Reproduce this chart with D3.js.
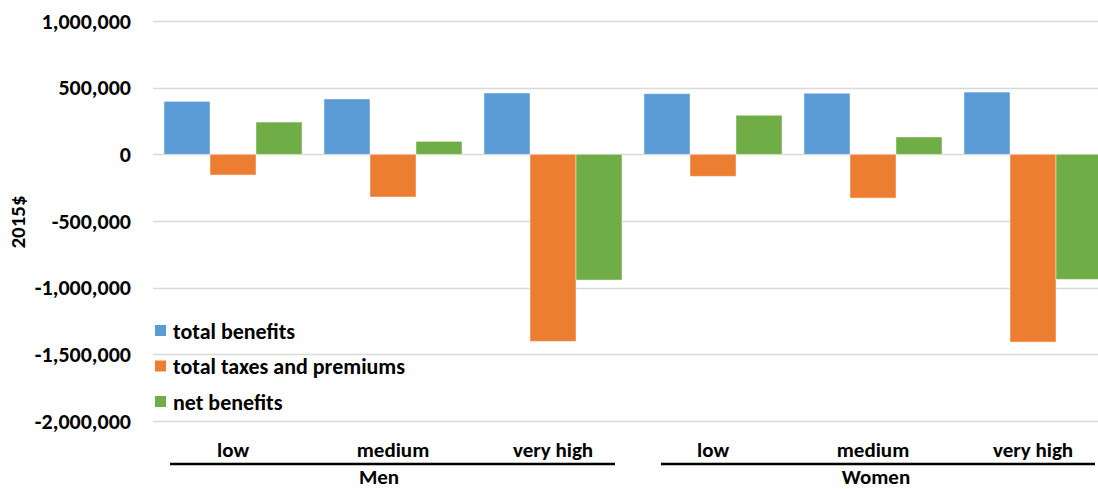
<!DOCTYPE html>
<html><head><meta charset="utf-8">
<script src="https://cdn.jsdelivr.net/npm/d3@7"></script>
<style>
html,body{margin:0;padding:0;background:#fff;}
svg text{font-family:Carlito,"Open Sans",Lato,sans-serif;font-weight:bold;fill:#000;}
</style></head>
<body><svg id="c" width="1098" height="489"></svg>
<script>
const groups = ["Men", "Women"];
const levels = ["low", "medium", "very high"];
const seriesNames = ["total benefits", "total taxes and premiums", "net benefits"];
const colors = ["#5B9BD5", "#ED7D31", "#70AD47"];
const totalBenefits = [397000, 415000, 460000, 455000, 458000, 467000];
const totalTaxes = [-155000, -320000, -1403000, -165000, -328000, -1408000];
const netBenefits = [242000, 97000, -943000, 293000, 130000, -938000];
const yTicks = [1000000, 500000, 0, -500000, -1000000, -1500000, -2000000];

const seriesValues = [totalBenefits, totalTaxes, netBenefits];
const cats = [];
groups.forEach(g => levels.forEach(l => cats.push(g + "|" + l)));

const svg = d3.select("#c");
const x = d3.scaleBand().domain(cats).range([153, 1113]).paddingInner(0.1375).paddingOuter(0.06875);
const xs = d3.scaleBand().domain(seriesNames).range([0, x.bandwidth()]);
const y = d3.scaleLinear().domain([-2000000, 1000000]).range([421, 21]);

// gridlines
svg.append("g").selectAll("line").data(yTicks).join("line")
  .attr("x1", 153).attr("x2", 1098)
  .attr("y1", d => Math.round(y(d)) + 0.5).attr("y2", d => Math.round(y(d)) + 0.5)
  .attr("stroke", "#d9d9d9").attr("stroke-width", 1.3);

// y tick labels
const fmt = d3.format(",");
svg.append("g").selectAll("text").data(yTicks).join("text")
  .attr("x", 131).attr("y", d => y(d)).attr("dy", "0.35em")
  .attr("text-anchor", "end").style("font-size", "22px")
  .text(d => fmt(d).replace("−", "-"));

// y axis title
svg.append("text").attr("transform", "translate(25,222) rotate(-90)")
  .attr("text-anchor", "middle").style("font-size", "21px").text("2015$");

// bars
seriesNames.forEach((s, si) => {
  svg.append("g").selectAll("rect").data(seriesValues[si]).join("rect")
    .attr("x", (d, i) => x(cats[i]) + xs(s))
    .attr("width", xs.bandwidth())
    .attr("y", d => y(Math.max(0, d)))
    .attr("height", d => Math.abs(y(d) - y(0)))
    .attr("fill", colors[si])
    .attr("stroke", "rgba(255,255,255,0.45)").attr("stroke-width", 1);
});

// category labels
svg.append("g").selectAll("text").data(cats).join("text")
  .attr("x", d => x(d) + x.bandwidth() / 2).attr("y", 457)
  .attr("text-anchor", "middle").style("font-size", "21px")
  .text(d => d.split("|")[1]);

// group lines and labels
const lineStartOff = [6, 17];
const labelOff = [-14, 3];
groups.forEach((g, gi) => {
  const first = x(g + "|" + levels[0]);
  const last = x(g + "|" + levels[levels.length - 1]) + x.bandwidth();
  svg.append("line").attr("x1", first + lineStartOff[gi]).attr("x2", Math.min(last - 7, 1098))
    .attr("y1", 464).attr("y2", 464).attr("stroke", "#000").attr("stroke-width", 2.5);
  svg.append("text").attr("x", (first + last) / 2 + labelOff[gi]).attr("y", 484)
    .attr("text-anchor", "middle").style("font-size", "21px").text(g);
});

// legend
const lg = svg.append("g");
seriesNames.forEach((s, i) => {
  const ly = 331 + i * 35.5;
  lg.append("rect").attr("x", 155).attr("y", ly - 6).attr("width", 11).attr("height", 11).attr("fill", colors[i]);
  lg.append("text").attr("x", 173).attr("y", ly).attr("dy", "0.35em").style("font-size", "22px").text(s);
});
</script></body></html>
